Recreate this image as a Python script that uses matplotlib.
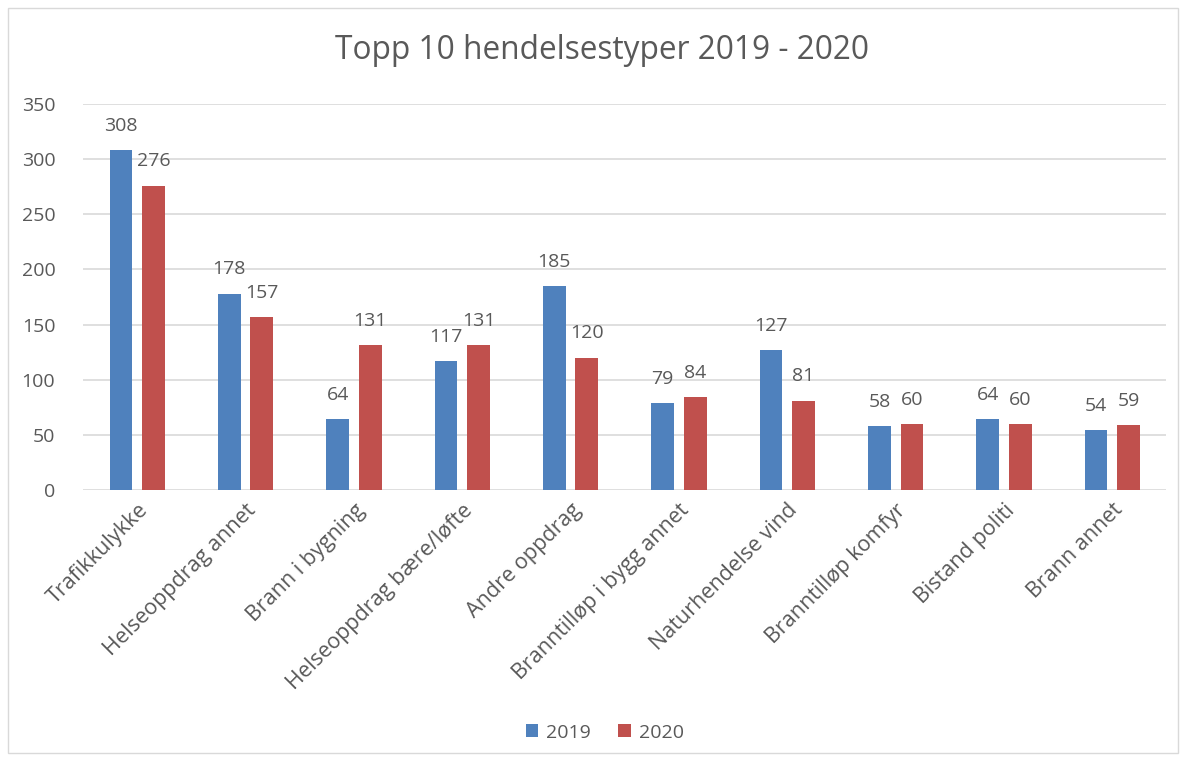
import numpy as np
import matplotlib
matplotlib.use('Agg')
import matplotlib.pyplot as plt
from matplotlib.patches import Rectangle

plt.rcParams['font.family'] = ['Open Sans', 'DejaVu Sans']

# data
categories = ['Trafikkulykke', 'Helseoppdrag annet', 'Brann i bygning',
              'Helseoppdrag bære/løfte', 'Andre oppdrag', 'Branntilløp i bygg annet',
              'Naturhendelse vind', 'Branntilløp komfyr', 'Bistand politi', 'Brann annet']
v2019 = [308, 178, 64, 117, 185, 79, 127, 58, 64, 54]
v2020 = [276, 157, 131, 131, 120, 84, 81, 60, 60, 59]
series_names = ['2019', '2020']
yticks = [0, 50, 100, 150, 200, 250, 300, 350]

blue = '#4F81BD'
red = '#C0504D'
txt = '#595959'

fig = plt.figure(figsize=(11.88, 7.62), dpi=100)
ax = fig.add_axes([0.0699, 0.357, 0.912, 0.5066])

x = np.arange(len(categories))
w = 0.21
off = 0.15
b1 = ax.bar(x - off, v2019, w, color=blue, label=series_names[0], zorder=3)
b2 = ax.bar(x + off, v2020, w, color=red, label=series_names[1], zorder=3)

for bars, vals in [(b1, v2019), (b2, v2020)]:
    for b, v in zip(bars, vals):
        ax.annotate(str(v), (b.get_x() + b.get_width()/2, v), xytext=(0, 11),
                    textcoords='offset points', ha='center', va='bottom',
                    fontsize=14, color=txt)

ax.set_xlim(-0.5, len(categories) - 0.5)
ax.set_ylim(0, 350)
ax.set_yticks(yticks)
ax.grid(axis='y', color='#D9D9D9', linewidth=1.2, zorder=0)
for s in ax.spines.values():
    s.set_visible(False)
ax.tick_params(axis='both', length=0, labelsize=14, labelcolor=txt)
ax.tick_params(axis='y', pad=20)
ax.set_xticks(x)
ax.set_xticklabels(categories, rotation=45, ha='right', rotation_mode='anchor', fontsize=15.5)
ax.tick_params(axis='x', pad=7)

fig.text(0.507, 0.934, 'Topp 10 hendelsestyper 2019 - 2020', ha='center', va='center',
         fontsize=22.8, color=txt)

ax.legend(loc='center', bbox_to_anchor=(0.509, 0.0385), bbox_transform=fig.transFigure,
          ncol=2, frameon=False, fontsize=14, labelcolor=txt, handlelength=0.65,
          handleheight=0.65, handletextpad=0.4, columnspacing=1.4)

fig.patches.append(Rectangle((0.007, 0.012), 0.985, 0.978, transform=fig.transFigure,
                             fill=False, edgecolor='#D9D9D9', linewidth=1))

fig.savefig('out.png', dpi=100)
